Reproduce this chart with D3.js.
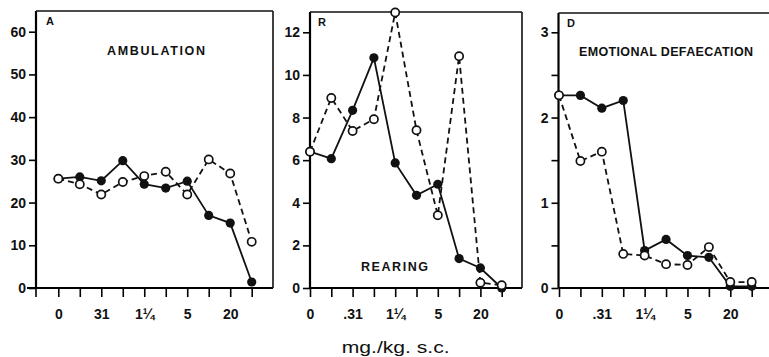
<!DOCTYPE html>
<html><head><meta charset="utf-8">
<script src="https://cdn.jsdelivr.net/npm/d3@7"></script>
<style>
html,body{margin:0;padding:0;background:#fff;}
svg{display:block;}
text{font-family:"Liberation Sans",Arial,sans-serif;fill:#111;}
</style></head>
<body>
<svg id="c" width="769" height="357"></svg>
<script>
// ---- data ----
const doseIdx = [0,1,2,3,4,5,6,7,8,9];
const doseTickLabelsA = ["0","","31","","1¼","","5","","20",""];
const doseTickLabelsRD = ["0","",".31","","1¼","","5","","20",""];

const ambulationFilled = [25.6,26.0,25.1,29.8,24.3,23.4,25.0,17.0,15.2,1.4];
const ambulationOpen   = [25.6,24.3,21.9,24.8,26.2,27.2,21.9,30.1,26.8,10.8];

const rearingFilled = [6.4,6.07,8.34,10.8,5.87,4.35,4.87,1.38,0.94,0.0];
const rearingOpen   = [6.4,8.92,7.37,7.92,12.93,7.4,3.41,10.88,0.25,0.13];

const defaecFilled = [2.26,2.26,2.11,2.20,0.44,0.57,0.38,0.36,0.02,0.02];
const defaecOpen   = [2.26,1.49,1.60,0.40,0.38,0.28,0.27,0.48,0.07,0.07];

const yTicksA = [0,10,20,30,40,50,60];
const yTicksR = [0,2,4,6,8,10,12];
const yTicksD = [0,0.5,1,1.5,2,2.5,3];
const yLabelsD = ["0","","1","","2","","3"];

const xTitle = "mg./kg. s.c.";

// ---- layout ----
const svg = d3.select("#c");
const base = 288;
const tickFont = "'Liberation Sans Narrow','Liberation Sans',Arial,sans-serif";

const panels = [
  {id:"A", title:"AMBULATION", filled:ambulationFilled, open:ambulationOpen,
   left:36, right:273, top:11, yMax:60, yTop:31.7, yTicks:yTicksA, yLabels:yTicksA.map(String),
   xLabels:doseTickLabelsA, xFirst:58.3, xLast:251.7, extraAxisTick:true, axisLeftExt:27,
   letter:{x:46,y:25}, titlePos:{x:107,y:55,w:98}},
  {id:"R", title:"REARING", filled:rearingFilled, open:rearingOpen,
   left:310, right:522, top:12, yMax:12, yTop:32.3, yTicks:yTicksR, yLabels:yTicksR.map(String),
   xLabels:doseTickLabelsRD, xFirst:310, xLast:501.7, extraAxisTick:false, axisLeftExt:310,
   letter:{x:318,y:26}, titlePos:{x:361,y:271,w:67}},
  {id:"D", title:"EMOTIONAL DEFAECATION", filled:defaecFilled, open:defaecOpen,
   left:558.5, right:800, top:13, yMax:3, yTop:32.3, yTicks:yTicksD, yLabels:yLabelsD,
   xLabels:doseTickLabelsRD, xFirst:559, xLast:751.7, extraAxisTick:false, axisLeftExt:558.5,
   letter:{x:567,y:27}, titlePos:{x:579,y:56,w:174}}
];

panels.forEach(p=>{
  const g = svg.append("g");
  const x = d3.scalePoint().domain(doseIdx).range([p.xFirst,p.xLast]);
  const y = d3.scaleLinear().domain([0,p.yMax]).range([base,p.yTop]);

  // frame
  g.append("line").attr("x1",p.left).attr("x2",p.left).attr("y1",p.top).attr("y2",base)
    .attr("stroke","#000").attr("stroke-width",2.2);
  g.append("line").attr("x1",p.axisLeftExt).attr("x2",p.right).attr("y1",base).attr("y2",base)
    .attr("stroke","#000").attr("stroke-width",2.2);
  g.append("line").attr("x1",p.left).attr("x2",p.right).attr("y1",p.top).attr("y2",p.top)
    .attr("stroke","#111").attr("stroke-width",1.4);
  g.append("line").attr("x1",p.right).attr("x2",p.right).attr("y1",p.top).attr("y2",base)
    .attr("stroke","#111").attr("stroke-width",1.6);

  // y axis
  const ya = d3.axisLeft(y).tickValues(p.yTicks).tickSize(7).tickPadding(3)
    .tickFormat((d,i)=>p.yLabels[i]);
  const yg = g.append("g").attr("transform",`translate(${p.left},0)`).call(ya);
  yg.select(".domain").remove();
  yg.selectAll(".tick line").attr("stroke","#000").attr("stroke-width",1.6);
  yg.selectAll(".tick text").attr("font-size",14).attr("font-weight","bold")
    .attr("font-family",tickFont).attr("fill","#111");

  // x axis
  const xa = d3.axisBottom(x).tickSize(9).tickPadding(12).tickFormat((d,i)=>p.xLabels[i]);
  const xg = g.append("g").attr("transform",`translate(0,${base})`).call(xa);
  xg.select(".domain").remove();
  xg.selectAll(".tick line").attr("stroke","#000").attr("stroke-width",1.6);
  xg.selectAll(".tick text").attr("font-size",14).attr("font-weight","bold")
    .attr("font-family",tickFont).attr("fill","#111");
  if(p.extraAxisTick){
    g.append("line").attr("x1",p.left).attr("x2",p.left).attr("y1",base).attr("y2",base+9)
      .attr("stroke","#000").attr("stroke-width",1.6);
  }

  // lines
  const line = d3.line().x((d,i)=>x(doseIdx[i])).y(d=>y(d));
  g.append("path").datum(p.open).attr("d",line).attr("fill","none")
    .attr("stroke","#111").attr("stroke-width",1.8).attr("stroke-dasharray","6,4");
  g.append("path").datum(p.filled).attr("d",line).attr("fill","none")
    .attr("stroke","#111").attr("stroke-width",1.8);

  g.selectAll(".f").data(p.filled).join("circle").attr("class","f")
    .attr("cx",(d,i)=>x(doseIdx[i])).attr("cy",d=>y(d)).attr("r",4.6).attr("fill","#111");
  g.selectAll(".o").data(p.open).join("circle").attr("class","o")
    .attr("cx",(d,i)=>x(doseIdx[i])).attr("cy",d=>y(d)).attr("r",4.1)
    .attr("fill","#fff").attr("stroke","#111").attr("stroke-width",1.7);

  // labels
  g.append("text").attr("x",p.letter.x).attr("y",p.letter.y).attr("font-size",11)
    .attr("font-weight","bold").text(p.id);
  g.append("text").attr("x",p.titlePos.x).attr("y",p.titlePos.y).attr("font-size",12.5)
    .attr("font-weight","bold").attr("font-family",tickFont)
    .attr("textLength",p.titlePos.w).attr("lengthAdjust","spacing")
    .text(p.title);
});

svg.append("text").attr("x",341.7).attr("y",353).attr("font-size",17)
  .attr("font-family","'DejaVu Sans',sans-serif").attr("textLength",108)
  .attr("lengthAdjust","spacingAndGlyphs").text(xTitle);
</script>
</body></html>
